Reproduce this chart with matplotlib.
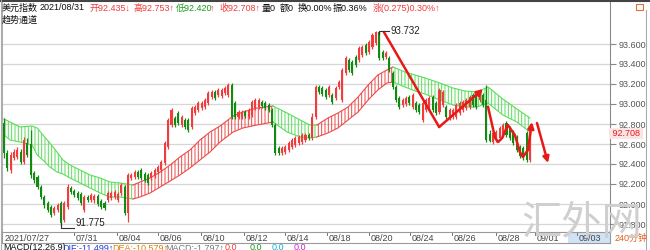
import numpy as np
import matplotlib.pyplot as plt
from matplotlib.lines import Line2D

plt.rcParams['font.family'] = ['Liberation Sans', 'Noto Sans CJK SC', 'DejaVu Sans']
plt.rcParams['hatch.linewidth'] = 0.7

# 240 minute candles, 2021/07/27 .. 2021/08/31
opens = [92.81, 92.51, 92.34, 92.46, 92.47, 92.52, 92.42, 92.61, 92.60, 92.31,
         92.27, 92.17, 92.07, 92.01, 91.97, 91.91, 91.94, 92.01, 91.84, 91.97,
         92.16, 92.13, 92.11, 92.10, 91.94, 92.07, 92.04, 92.04, 92.08, 92.03,
         92.01, 92.04, 92.06, 92.07, 92.04, 92.11, 92.17, 91.91, 92.26, 92.27,
         92.32, 92.34, 92.30, 92.29, 92.26, 92.28, 92.32, 92.34, 92.41, 92.57,
         92.79, 92.86, 92.91, 92.79, 92.84, 92.84, 92.77, 92.91, 92.94, 92.96,
         92.97, 93.01, 93.07, 93.12, 93.09, 93.08, 93.11, 93.09, 93.19, 93.01,
         92.87, 92.87, 92.92, 92.87, 92.89, 92.96, 92.97, 93.02, 93.01, 92.99,
         92.94, 92.79, 92.56, 92.51, 92.52, 92.54, 92.57, 92.59, 92.61, 92.62,
         92.64, 92.69, 92.66, 92.87, 93.17, 93.16, 93.14, 93.09, 93.09, 93.06,
         93.17, 93.04, 93.31, 93.44, 93.42, 93.47, 93.44, 93.49, 93.59, 93.52,
         93.57, 93.61, 93.72, 93.52, 93.47, 93.46, 93.31, 93.17, 93.06, 92.99,
         93.00, 93.07, 92.97, 93.01, 92.99, 92.84, 92.94, 92.97, 93.07, 93.01,
         92.92, 92.99, 92.97, 92.86, 92.87, 92.87, 92.91, 92.94, 92.96, 92.97,
         93.09, 93.10, 93.04, 93.09, 93.04, 92.70, 92.62, 92.64, 92.66, 92.69,
         92.81, 92.76, 92.72, 92.67, 92.57, 92.56, 92.71, 92.435]
closes = [92.51, 92.36, 92.49, 92.52, 92.54, 92.42, 92.64, 92.49, 92.29, 92.24,
          92.17, 92.07, 91.99, 91.94, 91.89, 91.96, 91.99, 91.81, 92.01, 92.17,
          92.12, 92.09, 92.06, 92.01, 92.07, 92.04, 92.09, 92.08, 92.00, 91.97,
          91.96, 92.11, 92.11, 92.12, 92.10, 92.19, 91.91, 92.29, 92.29, 92.32,
          92.27, 92.26, 92.24, 92.21, 92.31, 92.34, 92.37, 92.42, 92.61, 92.84,
          92.94, 92.79, 92.81, 92.87, 92.77, 92.74, 92.96, 92.97, 93.01, 93.01,
          93.04, 93.11, 93.12, 93.06, 93.14, 93.14, 93.16, 93.19, 92.87, 92.87,
          92.92, 92.92, 92.88, 92.94, 93.02, 93.04, 93.04, 92.98, 92.96, 92.94,
          92.79, 92.51, 92.51, 92.56, 92.57, 92.61, 92.64, 92.66, 92.67, 92.69,
          92.69, 92.66, 92.87, 93.17, 93.12, 93.10, 93.07, 93.17, 93.02, 93.16,
          93.22, 93.34, 93.46, 93.34, 93.31, 93.39, 93.56, 93.57, 93.51, 93.62,
          93.69, 93.72, 93.46, 93.46, 93.51, 93.34, 93.17, 93.04, 92.97, 93.04,
          93.06, 93.01, 93.09, 92.94, 92.92, 93.01, 93.04, 93.06, 92.94, 92.91,
          93.14, 93.12, 92.87, 92.94, 92.94, 92.99, 93.01, 93.02, 93.04, 93.07,
          92.99, 92.97, 93.11, 92.99, 92.64, 92.63, 92.71, 92.72, 92.76, 92.79,
          92.69, 92.66, 92.61, 92.54, 92.48, 92.46, 92.44, 92.708]
highs = [92.86, 92.54, 92.52, 92.55, 92.57, 92.55, 92.67, 92.66, 92.74, 92.33,
         92.29, 92.19, 92.09, 92.03, 91.99, 91.98, 92.01, 92.03, 92.03, 92.20,
         92.18, 92.15, 92.13, 92.12, 92.09, 92.09, 92.11, 92.10, 92.10, 92.05,
         92.03, 92.13, 92.13, 92.14, 92.12, 92.21, 92.19, 92.31, 92.31, 92.34,
         92.34, 92.36, 92.32, 92.31, 92.33, 92.36, 92.39, 92.44, 92.63, 92.86,
         92.96, 92.88, 92.93, 92.89, 92.86, 92.86, 92.98, 92.99, 93.03, 93.03,
         93.06, 93.13, 93.14, 93.14, 93.16, 93.16, 93.18, 93.21, 93.21, 93.03,
         92.94, 92.94, 92.94, 92.96, 93.04, 93.06, 93.06, 93.04, 93.03, 93.01,
         92.96, 92.81, 92.58, 92.58, 92.59, 92.63, 92.66, 92.68, 92.69, 92.71,
         92.71, 92.71, 92.91, 93.19, 93.19, 93.18, 93.16, 93.19, 93.11, 93.18,
         93.24, 93.36, 93.48, 93.46, 93.44, 93.49, 93.58, 93.59, 93.61, 93.64,
         93.71, 93.73, 93.732, 93.54, 93.53, 93.48, 93.33, 93.19, 93.08, 93.06,
         93.08, 93.09, 93.11, 93.03, 93.01, 93.03, 93.06, 93.08, 93.09, 93.03,
         93.16, 93.14, 92.99, 92.96, 92.96, 93.01, 93.03, 93.04, 93.06, 93.09,
         93.11, 93.12, 93.13, 93.11, 93.19, 92.74, 92.73, 92.74, 92.78, 92.81,
         92.83, 92.78, 92.74, 92.69, 92.59, 92.58, 92.73, 92.753]
lows = [92.46, 92.33, 92.31, 92.44, 92.45, 92.40, 92.40, 92.47, 92.26, 92.21,
        92.15, 92.05, 91.96, 91.92, 91.87, 91.89, 91.92, 91.775, 91.82, 91.95,
        92.10, 92.07, 92.04, 91.99, 91.92, 92.02, 92.02, 92.01, 91.98, 91.95,
        91.94, 92.02, 92.04, 92.05, 92.02, 92.09, 91.89, 91.82, 92.24, 92.25,
        92.25, 92.24, 92.22, 92.19, 92.24, 92.26, 92.30, 92.32, 92.39, 92.55,
        92.77, 92.77, 92.79, 92.77, 92.75, 92.72, 92.75, 92.89, 92.92, 92.94,
        92.95, 92.99, 93.05, 93.04, 93.07, 93.06, 93.09, 93.07, 92.85, 92.85,
        92.85, 92.85, 92.86, 92.85, 92.87, 92.94, 92.95, 92.96, 92.94, 92.92,
        92.77, 92.49, 92.49, 92.49, 92.50, 92.52, 92.55, 92.57, 92.59, 92.60,
        92.62, 92.64, 92.64, 92.85, 93.10, 93.08, 93.05, 93.07, 93.00, 93.04,
        93.15, 93.02, 93.29, 93.32, 93.29, 93.37, 93.42, 93.47, 93.49, 93.50,
        93.55, 93.59, 93.44, 93.44, 93.45, 93.32, 93.15, 93.02, 92.95, 92.97,
        92.98, 92.99, 92.95, 92.92, 92.90, 92.82, 92.92, 92.95, 92.92, 92.89,
        92.90, 92.97, 92.85, 92.84, 92.85, 92.85, 92.89, 92.92, 92.94, 92.95,
        92.97, 92.95, 93.02, 92.97, 92.62, 92.62, 92.60, 92.62, 92.64, 92.67,
        92.67, 92.64, 92.59, 92.52, 92.46, 92.44, 92.42, 92.42]

# trend channel segments: (bar position, upper, lower), green = down, red = up
band_green1_x = [0, 1.8, 4.8, 8.4, 9.9, 11.6, 13.7, 15.8, 17.6, 19.7, 22.7, 25.7, 28.7, 31.6, 34.6, 38.5]
band_green1_up = [92.85, 92.82, 92.77, 92.78, 92.76, 92.69, 92.61, 92.52, 92.44, 92.39, 92.34, 92.29, 92.26, 92.22, 92.21, 92.19]
band_green1_lo = [92.69, 92.64, 92.62, 92.59, 92.49, 92.44, 92.37, 92.32, 92.30, 92.26, 92.21, 92.16, 92.11, 92.07, 92.07, 92.05]
band_red1_x = [38.5, 40.6, 43.6, 46.6, 49.6, 52.5, 55.5, 58.5, 61.5, 64.5, 68.4, 71.3, 75.5, 80.3]
band_red1_up = [92.19, 92.22, 92.26, 92.32, 92.39, 92.47, 92.54, 92.64, 92.72, 92.78, 92.88, 92.92, 92.96, 92.98]
band_red1_lo = [92.05, 92.07, 92.11, 92.17, 92.23, 92.29, 92.36, 92.44, 92.52, 92.62, 92.72, 92.76, 92.79, 92.82]
band_green2_x = [80.3, 84.5, 88.4, 91.3, 93.4]
band_green2_up = [92.98, 92.91, 92.84, 92.79, 92.79]
band_green2_lo = [92.82, 92.72, 92.67, 92.66, 92.67]
band_red2_x = [93.4, 96.7, 99.7, 102.7, 105.7, 108.7, 111.6, 114.3, 116.1]
band_red2_up = [92.79, 92.86, 92.91, 92.97, 93.07, 93.19, 93.29, 93.34, 93.37]
band_red2_lo = [92.67, 92.71, 92.76, 92.84, 92.92, 93.04, 93.14, 93.21, 93.22]
band_green3_x = [116.1, 119.7, 122.7, 125.7, 130.1, 134.0, 137.6, 141.2, 144.5, 148.9, 153.1, 157.0]
band_green3_up = [93.37, 93.32, 93.29, 93.26, 93.21, 93.16, 93.13, 93.12, 93.17, 93.05, 92.95, 92.86]
band_green3_lo = [93.22, 93.17, 93.13, 93.10, 93.04, 92.99, 92.97, 92.97, 93.01, 92.89, 92.82, 92.72]

# hand drawn arrows
arrow1_x = [113.4, 129.9, 143.0]
arrow1_y = [93.72, 92.77, 93.15]
arrow2_x = [144.5, 146.6, 147.5, 148.7, 150.4, 152.5, 154.0, 154.9, 156.4, 157.6]
arrow2_y = [92.97, 92.66, 92.62, 92.66, 92.79, 92.69, 92.52, 92.47, 92.54, 92.82]
arrow3_x = [159.1, 162.4]
arrow3_y = [92.81, 92.41]

yticks = [91.8, 92.0, 92.2, 92.4, 92.6, 92.8, 93.0, 93.2, 93.4, 93.6]
date_pos = [0.3, 20.9, 33.7, 46.0, 58.8, 71.6, 83.9, 96.4, 108.9, 121.2, 133.7, 146.9, 158.5, 171.0]
date_labels = ['2021/07/27', '07/31', '08/04', '08/06', '08/10', '08/12', '08/14', '08/18',
               '08/20', '08/24', '08/26', '08/28', '09/01', '09/03']

RED = '#f03c3c'
GREEN = '#128a12'
BAND_G = '#5ade5a'
BAND_R = '#ee4a4a'
ARROW = '#e81818'

W, H = 650, 250
fig = plt.figure(figsize=(6.5, 2.5), dpi=100)
ax = fig.add_axes([2 / W, 18 / H, 608 / W, 230 / H])
ax.set_xlim(-0.6, 180.9)
ax.set_ylim(91.72, 94.02)

for yv in yticks:
    ax.axhline(yv, color='#d6d6d6', lw=0.9, zorder=0)

# channel
bands = [(band_green1_x, band_green1_up, band_green1_lo, BAND_G),
         (band_red1_x, band_red1_up, band_red1_lo, BAND_R),
         (band_green2_x, band_green2_up, band_green2_lo, BAND_G),
         (band_red2_x, band_red2_up, band_red2_lo, BAND_R),
         (band_green3_x, band_green3_up, band_green3_lo, BAND_G)]
for bx, bu, bl, col in bands:
    ax.fill_between(bx, bu, bl, facecolor='none', edgecolor=col, hatch='|||||', linewidth=0, zorder=1)
    ax.plot(bx, bu, color=col, lw=0.8, zorder=1)
    ax.plot(bx, bl, color=col, lw=0.8, zorder=1)

# candles
x = np.arange(len(opens))
o = np.array(opens)
c = np.array(closes)
up = c >= o
cols = np.where(up, RED, GREEN)
ax.vlines(x, lows, highs, colors=cols, lw=0.9, zorder=2)
body = np.abs(c - o)
body = np.where(body < 0.012, 0.012, body)
ax.bar(x, body, bottom=np.minimum(o, c), width=0.62, color=cols, linewidth=0, zorder=3)

# arrows
ax.plot(arrow1_x[:-1], arrow1_y[:-1], color=ARROW, lw=1.8, solid_capstyle='round', zorder=4)
ax.annotate('', xy=(arrow1_x[-1], arrow1_y[-1]), xytext=(arrow1_x[-2], arrow1_y[-2]),
            arrowprops=dict(arrowstyle='-|>', color=ARROW, lw=1.8, mutation_scale=9,
                            shrinkA=0, shrinkB=0), zorder=4)
ax.plot(arrow2_x[:-1], arrow2_y[:-1], color=ARROW, lw=1.8, solid_joinstyle='round', zorder=4)
ax.annotate('', xy=(arrow2_x[-1], arrow2_y[-1]), xytext=(arrow2_x[-2], arrow2_y[-2]),
            arrowprops=dict(arrowstyle='-|>', color=ARROW, lw=1.8, mutation_scale=9,
                            shrinkA=0, shrinkB=0), zorder=4)
ax.annotate('', xy=(arrow3_x[-1], arrow3_y[-1]), xytext=(arrow3_x[0], arrow3_y[0]),
            arrowprops=dict(arrowstyle='-|>', color=ARROW, lw=1.8, mutation_scale=9,
                            shrinkA=0, shrinkB=0), zorder=4)

# max / min labels
hi_i = int(np.argmax(highs))
lo_i = int(np.argmin(lows))
ax.plot([hi_i, hi_i, hi_i + 3], [highs[hi_i] - 0.03, highs[hi_i], highs[hi_i]], color='#333333', lw=0.8, zorder=5)
ax.text(hi_i + 3.3, highs[hi_i], '%.3f' % highs[hi_i], fontsize=7, color='#222222', va='center', ha='left')
ax.plot([lo_i, lo_i, lo_i + 4], [lows[lo_i] + 0.03, lows[lo_i] - 0.02, lows[lo_i] - 0.02], color='#333333', lw=0.8, zorder=5)
ax.text(lo_i + 4.3, lows[lo_i] + 0.03, '%.3f' % lows[lo_i], fontsize=7, color='#222222', va='center', ha='left')

# axes styling
ax.set_xticks([])
ax.yaxis.tick_right()
ax.set_yticks(yticks)
ax.set_yticklabels(['%.3f' % v for v in yticks])
ax.tick_params(axis='y', length=4, width=0.8, color='#888888', labelsize=6.5, labelcolor='#555555', pad=2)
for s in ['top', 'bottom']:
    ax.spines[s].set_visible(False)
ax.spines['right'].set_color('#8a8a8a')
ax.spines['left'].set_color('#b0b0b0')
ax.text(1.0, closes[-1], ' %.3f ' % closes[-1], transform=ax.get_yaxis_transform(), fontsize=6.5,
        color='#e02020', va='center', ha='left',
        bbox=dict(boxstyle='square,pad=0.1', facecolor='#fde4e4', edgecolor='none'), zorder=6,
        clip_on=False)

# date bar
axd = fig.add_axes([2 / W, 7 / H, 608 / W, 11 / H])
axd.set_xlim(ax.get_xlim())
axd.set_ylim(0, 1)
axd.set_yticks([])
axd.set_xticks([])
for s in axd.spines.values():
    s.set_color('#9a9a9a')
    s.set_linewidth(0.8)
axd.axvspan(168.4, 180.9, color='#cfe2f6', lw=0)
for p, lab in zip(date_pos, date_labels):
    if lab.startswith('2021'):
        axd.text(p, 0.45, lab, fontsize=6.5, color='#444444', va='center', ha='left')
        continue
    axd.plot([p, p], [0.7, 1.0], color='#777777', lw=0.7)
    axd.text(p + 0.6, 0.45, lab, fontsize=6.5, color='#444444', va='center', ha='left')
fig.text(615 / W, 1 - 238 / H, '240分钟', fontsize=6.5, color='#e0601a', va='center', ha='left')

# header
hy = 1 - 8 / H
header = [(2, '美元指数', '#111111'), (40, '2021/08/31', '#111111'), (90, '开92.435↓', RED),
          (133, '高92.753↑', RED), (176, '低92.420', '#1a9a1a'), (210, '↑', RED),
          (219, '收92.708↑', RED), (262, '量0', '#111111'), (280, '额0', '#111111'),
          (298, '换0.00%', '#111111'), (333, '振0.36%', '#111111'), (373, '涨(0.275)0.30%↑', RED)]
for px, t, col in header:
    fig.text(px / W, hy, t, fontsize=6.5, color=col, va='center', ha='left')
fig.text(2 / W, 1 - 20 / H, '趋势通道', fontsize=6.5, color='#111111', va='center', ha='left')

# bottom indicator row (cut off)
macd = [(3, 'MACD(12,26,9)', '#111111'), (62, 'DIF:-11.499↑', '#2040d0'), (112, 'DEA:-10.579↑', '#e08000'),
        (165, 'MACD:-1.797↑', '#777777'), (225, '0.0', RED), (250, '0.0', '#1a9a1a'),
        (272, '0.0', '#10b0d0'), (294, '0.0', '#d020d0')]
for px, t, col in macd:
    fig.text(px / W, 1 - 248 / H, t, fontsize=6.5, color=col, va='center', ha='left')

# watermark
fig.text(582 / W, 1 - 224 / H, '汇外网', fontsize=29, color='#cfcfcf', va='center', ha='center',
         family=['Noto Sans CJK SC'], zorder=10)

# frame decorations
fig.add_artist(Line2D([0, 1], [1 - 0.5 / H, 1 - 0.5 / H], color='#444444', lw=1.5))
fig.add_artist(Line2D([0.5 / W, 0.5 / W], [0, 1], color='#aaaaaa', lw=0.8))
fig.add_artist(Line2D([646 / W, 646 / W], [0, 1 - 10 / H], color='#aaaaaa', lw=0.8))
fig.add_artist(plt.Rectangle((636 / W, 1 - 10 / H), 7 / W, 6 / H, fill=False, edgecolor='#e07030', lw=0.8))

fig.savefig('out.png', dpi=100)
